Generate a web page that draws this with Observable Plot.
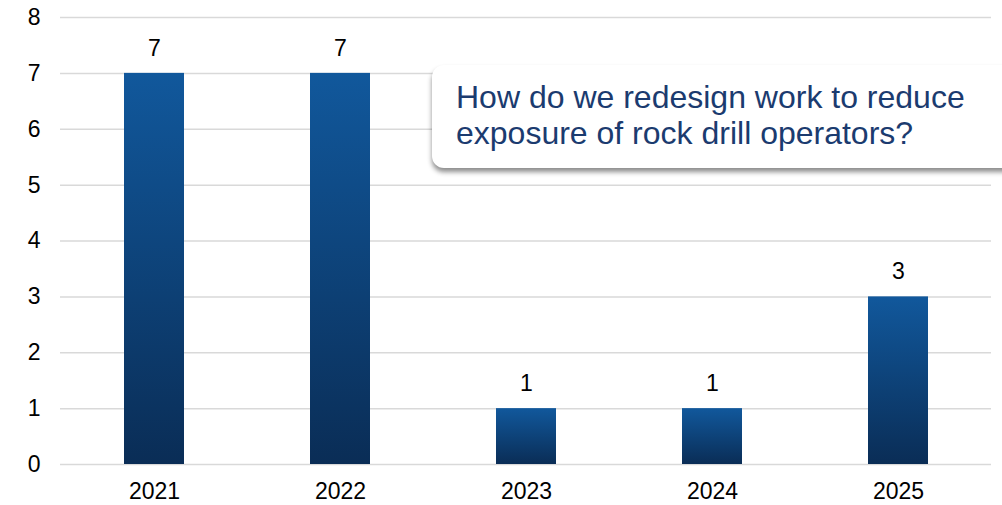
<!DOCTYPE html>
<html>
<head>
<meta charset="utf-8">
<script src="https://cdn.jsdelivr.net/npm/d3@7"></script>
<script src="https://cdn.jsdelivr.net/npm/@observablehq/plot@0.6"></script>
<style>
  html, body { margin: 0; padding: 0; background: #fff; overflow: hidden; }
  #wrap { position: relative; width: 1002px; height: 505px; font-family: "Liberation Sans", Arial, sans-serif; }
  #callout {
    position: absolute; left: 432px; top: 65px; width: 620px; height: 103px;
    background: #fff; border-radius: 12px;
    box-shadow: 0 4px 5px rgba(0,0,0,0.45);
    box-sizing: border-box; padding: 14px 0 0 24px;
    color: #1b3b6f; font-size: 32px; line-height: 36px;
  }
</style>
</head>
<body>
<div id="wrap">
  <div id="chart"></div>
  <div id="callout">How do we redesign work to reduce<br>exposure of rock drill operators?</div>
</div>
<script>
const years = ["2021", "2022", "2023", "2024", "2025"];
const counts = [7, 7, 1, 1, 3];
const yTicks = [0, 1, 2, 3, 4, 5, 6, 7, 8];

const data = years.map((y, i) => ({year: y, count: counts[i]}));

const chart = Plot.plot({
  width: 1002,
  height: 505,
  marginTop: 17,
  marginBottom: 41,
  marginLeft: 60,
  marginRight: 11,
  style: {fontFamily: "'Liberation Sans', Arial, sans-serif", fontSize: "23px", color: "#000", background: "#fff"},
  x: {domain: years, paddingInner: 0.68, paddingOuter: 0.34, label: null},
  y: {domain: [0, 8], ticks: yTicks, label: null},
  marks: [
    Plot.gridY(yTicks, {stroke: "#d9d9d9", strokeOpacity: 1, strokeWidth: 1.5}),
    Plot.barY(data, {x: "year", y: "count", fill: "url(#barGrad)"}),
    Plot.text(data, {x: "year", y: "count", text: d => String(d.count), dy: -25, fontSize: 23, fill: "#000"}),
    Plot.axisY(yTicks, {tickSize: 0, tickPadding: 20, fontSize: 23, tickFormat: d3.format("d"), label: null}),
    Plot.axisX({tickSize: 0, tickPadding: 18, fontSize: 23, label: null})
  ]
});

const svg = d3.select(chart);
const defs = svg.insert("defs", ":first-child");
const g = defs.append("linearGradient").attr("id", "barGrad")
  .attr("x1", 0).attr("y1", 0).attr("x2", 0).attr("y2", 1);
g.append("stop").attr("offset", "0%").attr("stop-color", "#11589c");
g.append("stop").attr("offset", "100%").attr("stop-color", "#0a2d56");

document.getElementById("chart").appendChild(chart);
</script>
</body>
</html>
